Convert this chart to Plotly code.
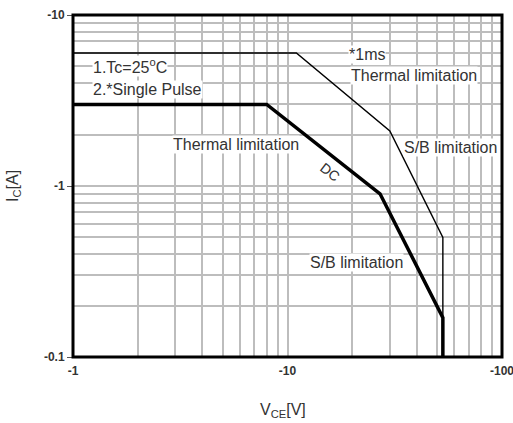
import numpy as np
import plotly.graph_objects as go

# ---- data (magnitudes; axis labels show the negative sign) ----
v_1ms = [1, 11, 30, 53, 53]
i_1ms = [6, 6, 2.1, 0.5, 0.1]
v_dc = [1, 8, 27, 53, 53]
i_dc = [3, 3, 0.9, 0.17, 0.1]

x_major = [1, 10, 100]
x_major_text = ["-1", "-10", "-100"]
y_major = [0.1, 1, 10]
y_major_text = ["-0.1", "-1", "-10"]
x_minor = [2, 3, 4, 5, 6, 7, 8, 9, 20, 30, 40, 50, 60, 70, 80, 90]
y_minor = [0.2, 0.3, 0.4, 0.5, 0.6, 0.7, 0.8, 0.9, 2, 3, 4, 5, 6, 7, 8, 9]

GRID = "#bdbdbd"
TXT = "#333333"
FONT = "Liberation Sans, Arial, sans-serif"

fig = go.Figure()
fig.add_trace(go.Scatter(x=v_1ms, y=i_1ms, mode="lines",
                         line=dict(color="black", width=1.4), showlegend=False))
fig.add_trace(go.Scatter(x=v_dc, y=i_dc, mode="lines",
                         line=dict(color="black", width=3.5), showlegend=False))

notes = [
    ("1.Tc=25<sup>o</sup>C", 1.23, 5.0),
    ("2.*Single Pulse", 1.23, 3.65),
    ("Thermal limitation", 2.9, 1.74),
    ("*1ms", 19.2, 5.9),
    ("Thermal limitation", 19.6, 4.45),
    ("S/B limitation", 34.6, 1.67),
    ("S/B limitation", 12.6, 0.355),
]
for text, x, y in notes:
    fig.add_annotation(x=np.log10(x), y=np.log10(y), text=text, showarrow=False,
                       xanchor="left", yanchor="middle", bgcolor="white", borderpad=0,
                       font=dict(family=FONT, size=16, color=TXT))
fig.add_annotation(x=np.log10(15.8), y=np.log10(1.21), text="DC", showarrow=False,
                   textangle=38, font=dict(family=FONT, size=14, color=TXT))

fig.add_annotation(xref="paper", yref="paper", x=-0.14, y=0.5, text="I<sub>C</sub>[A]",
                   xanchor="center", yanchor="middle",
                   textangle=-90, showarrow=False, font=dict(family=FONT, size=16, color=TXT))
fig.add_annotation(xref="paper", yref="paper", x=0.49, y=-0.155, text="V<sub>CE</sub>[V]",
                   xanchor="center", yanchor="middle",
                   showarrow=False, font=dict(family=FONT, size=16, color=TXT))

# plot frame
fig.add_shape(type="rect", xref="paper", yref="paper", x0=0, y0=0, x1=1, y1=1,
              line=dict(color="black", width=3), layer="above")

axis_common = dict(type="log", showline=False, mirror=False,
                   showgrid=True, gridcolor=GRID, gridwidth=1.5, zeroline=False, automargin=False,
                   ticklabeloverflow="allow",
                   tickfont=dict(family=FONT, size=12, color=TXT, weight="bold"))
fig.update_xaxes(range=[0, 2], tickmode="array", tickvals=x_major, ticktext=x_major_text,
                 ticks="", ticklabelstandoff=5,
                 minor=dict(tickvals=x_minor, showgrid=True, gridcolor=GRID, gridwidth=1.5),
                 **axis_common)
fig.update_yaxes(range=[-1, 1], tickmode="array", tickvals=y_major, ticktext=y_major_text,
                 ticks="outside", ticklen=5, tickcolor="#555",
                 minor=dict(tickvals=y_minor, showgrid=True, gridcolor=GRID, gridwidth=1.5),
                 **axis_common)

fig.update_layout(width=513, height=423, margin=dict(l=73, r=11, t=15, b=66),
                  plot_bgcolor="white", paper_bgcolor="white", showlegend=False)
fig.write_html("out.html", config={"displayModeBar": False},
               post_script="document.body.style.margin='0';document.body.style.overflow='hidden';")
